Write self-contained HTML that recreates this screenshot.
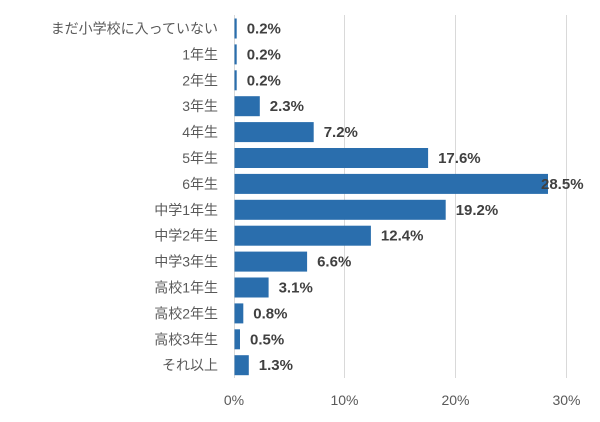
<!DOCTYPE html>
<html><head><meta charset="utf-8"><style>
body{margin:0;background:#fff;}
svg text{font-family:"Liberation Sans","Noto Sans CJK JP",sans-serif;}
</style></head><body>
<svg width="600" height="417" xmlns="http://www.w3.org/2000/svg">
<g stroke="#d9d9d9" stroke-width="1">
<line x1="344.5" y1="15" x2="344.5" y2="378"/>
<line x1="455.5" y1="15" x2="455.5" y2="378"/>
<line x1="566.5" y1="15" x2="566.5" y2="378"/>
<line x1="234.5" y1="15" x2="234.5" y2="378"/>
</g>
<g id="bars" fill="#2a6ead"></g>
<g id="labels" font-size="14" fill="#595959" text-anchor="end"></g>
<g id="vals" font-size="15" font-weight="bold" fill="#404040"></g>
<g font-size="14" fill="#595959" text-anchor="middle">
<text x="234" y="405">0%</text><text x="344.5" y="405">10%</text><text x="455.5" y="405">20%</text><text x="566.5" y="405">30%</text>
</g>
</svg>
<script>
var d=[["まだ小学校に入っていない",0.2],["1年生",0.2],["2年生",0.2],["3年生",2.3],["4年生",7.2],["5年生",17.6],["6年生",28.5],["中学1年生",19.2],["中学2年生",12.4],["中学3年生",6.6],["高校1年生",3.1],["高校2年生",0.8],["高校3年生",0.5],["それ以上",1.3]];
var ns="http://www.w3.org/2000/svg";
function el(t,a,p,txt){var e=document.createElementNS(ns,t);for(var k in a)e.setAttribute(k,a[k]);if(txt)e.textContent=txt;document.getElementById(p).appendChild(e);}
d.forEach(function(r,i){var c=28.5+i*25.9;var w=r[1]*11.0;
el("rect",{x:234.5,y:c-10,width:Math.max(w,1.5),height:20},"bars");
el("text",{x:218,y:c+5},"labels",r[0]);
var tx=234.5+w+10; if(r[1]>28) tx=541;
el("text",{x:tx,y:c+5},"vals",r[1].toFixed(1)+"%");});
</script>
</body></html>
